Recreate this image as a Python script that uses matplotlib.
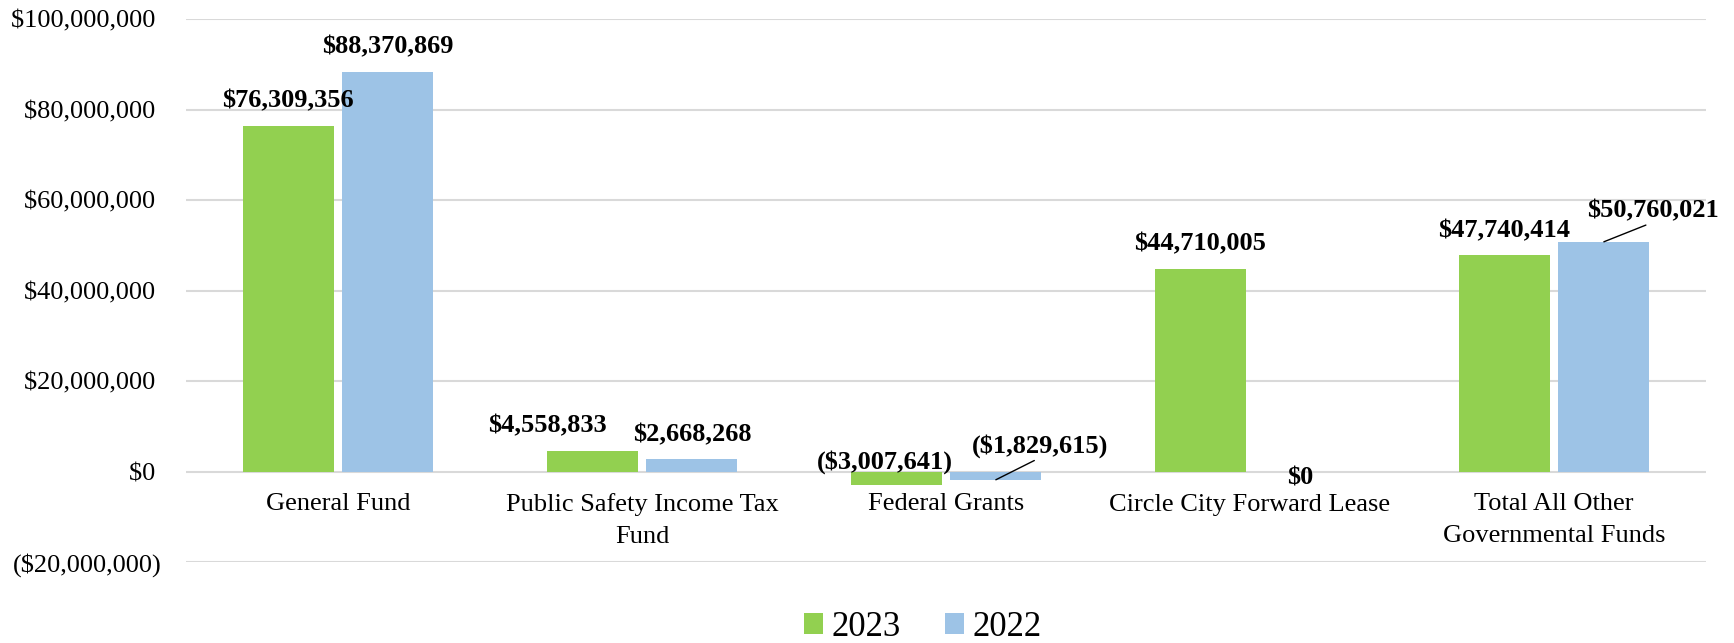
import numpy as np
import matplotlib
matplotlib.use('Agg')
import matplotlib.pyplot as plt
from matplotlib.ticker import FuncFormatter

plt.rcParams['font.family'] = ['Liberation Serif', 'DejaVu Serif']

# fund balances by fund
categories = ['General Fund', 'Public Safety Income Tax\nFund', 'Federal Grants',
              'Circle City Forward Lease', 'Total All Other\nGovernmental Funds']
years = ['2023', '2022']
vals_2023 = [76309356, 4558833, -3007641, 44710005, 47740414]
vals_2022 = [88370869, 2668268, -1829615, 0, 50760021]
colors = ['#92D050', '#9DC3E6']

def money(v):
    if v < 0:
        return '(${:,.0f})'.format(-v)
    return '${:,.0f}'.format(v)

fig = plt.figure(figsize=(17.34, 6.43), dpi=100)
ax = fig.add_axes([186/1734, 1-562/643, (1706-186)/1734, (562-19)/643])

x = np.arange(len(categories))
w = 0.30
off = 0.164
b1 = ax.bar(x - off, vals_2023, w, color=colors[0], label=years[0], zorder=3)
b2 = ax.bar(x + off, vals_2022, w, color=colors[1], label=years[1], zorder=3)

ax.set_xlim(-0.5, len(categories) - 0.5)
ax.set_ylim(-20e6, 100e6)
ax.set_yticks(np.arange(-20e6, 100e6 + 1, 20e6))
ax.yaxis.set_major_formatter(FuncFormatter(lambda v, p: money(v) if v < 0 else money(v) + ' '))
ax.tick_params(axis='y', length=0, pad=17.5, labelsize=19)
ax.set_xticks([])
ax.grid(axis='y', color='#D9D9D9', lw=1.5, zorder=0)
for s in ax.spines.values():
    s.set_visible(False)

# category names just under the zero line
for i, c in enumerate(categories):
    ax.annotate(c, xy=(i, 0), xytext=(0, -22), textcoords='offset pixels',
                ha='center', va='top', fontsize=19, linespacing=1.55)

lbl = dict(ha='center', va='center', fontsize=19, fontweight='bold', textcoords='offset pixels')

# value labels; a few are nudged aside, two with a leader line
special = {(1, 0): (-45, 25, False), (2, 0): (-11, 9, False), (2, 1): (44, 34, True),
           (3, 1): (0, -6, False), (4, 1): (49, 31, True)}
for j, (bars, vals) in enumerate([(b1, vals_2023), (b2, vals_2022)]):
    for i, (r, v) in enumerate(zip(bars, vals)):
        cx = r.get_x() + r.get_width() / 2
        dx, dy, lead = special.get((i, j), (0, 25, False))
        if lead:
            ax.annotate(money(v), xy=(cx, v), xytext=(dx, dy),
                        arrowprops=dict(arrowstyle='-', color='black', lw=1,
                                        relpos=(0.5, 0), shrinkA=0, shrinkB=0),
                        **lbl)
        else:
            ax.annotate(money(v), xy=(cx, max(v, 0)), xytext=(dx, dy), **lbl)

fig.legend(loc='center', bbox_to_anchor=(923/1734, 1-627/643), ncol=2, frameon=False,
           fontsize=25, handlelength=0.54, handleheight=0.54, handletextpad=0.26,
           columnspacing=1.26)

fig.savefig('out.png', dpi=100)
